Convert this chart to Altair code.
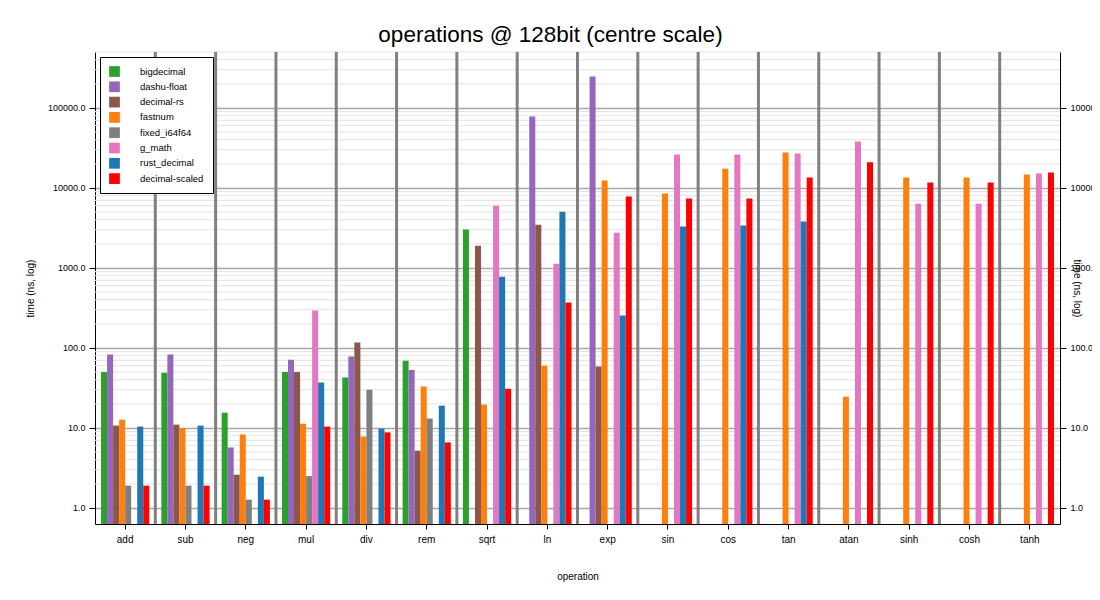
import altair as alt
import pandas as pd

operations = ["add", "sub", "neg", "mul", "div", "rem", "sqrt", "ln", "exp",
              "sin", "cos", "tan", "atan", "sinh", "cosh", "tanh"]
libraries = ["bigdecimal", "dashu-float", "decimal-rs", "fastnum",
             "fixed_i64f64", "g_math", "rust_decimal", "decimal-scaled"]
colors = ["#2ca02c", "#9467bd", "#8c564b", "#ff7f0e",
          "#7f7f7f", "#e377c2", "#1f77b4", "#ff0000"]

# time in ns per operation (None = not supported)
bigdecimal = [50, 49, 15.5, 50, 42.7, 69, 3020, None, None,
              None, None, None, None, None, None, None]
dashu_float = [83, 83, 5.7, 71, 78, 53, None, 78000, 247000,
               None, None, None, None, None, None, None]
decimal_rs = [10.7, 11, 2.6, 50, 117, 5.2, 1900, 3470, 58.5,
              None, None, None, None, None, None, None]
fastnum = [12.7, 10, 8.3, 11.3, 7.8, 33, 19.6, 60, 12400,
           8500, 17400, 27800, 24.6, 13500, 13500, 14700]
fixed_i64f64 = [1.9, 1.9, 1.27, 2.5, 30, 13.1, None, None, None,
                None, None, None, None, None, None, None]
g_math = [None, None, None, 293, None, None, 6000, 1130, 2760,
          26200, 26200, 27000, 38000, 6330, 6330, 15100]
rust_decimal = [10.4, 10.7, 2.46, 37, 9.8, 19, 776, 5030, 254,
                3300, 3380, 3800, None, None, None, None]
decimal_scaled = [1.9, 1.9, 1.27, 10.4, 8.8, 6.6, 31, 370, 7800,
                  7400, 7400, 13500, 20900, 11700, 11700, 15600]

series = [bigdecimal, dashu_float, decimal_rs, fastnum,
          fixed_i64f64, g_math, rust_decimal, decimal_scaled]

y_min, y_max = 0.63, 500000
major_ticks = [1, 10, 100, 1000, 10000, 100000]
minor_mult = [2, 3, 4, 5, 6, 7, 8, 9]

rows = []
for lib, vals in zip(libraries, series):
    for op, v in zip(operations, vals):
        if v is not None:
            rows.append({"operation": op, "library": lib, "time": v})
df = pd.DataFrame(rows)

minor_vals = [d * m for d in major_ticks for m in minor_mult if d * m <= y_max]
minor_df = pd.DataFrame({"time": minor_vals})
sep_df = pd.DataFrame({"operation": operations[1:]})
major_df = pd.DataFrame({"time": major_ticks})

W, H = 965, 472
STEP = W / len(operations)
FONT = "Liberation Sans"
ytitle = "time (ns, log)"
yscale = alt.Scale(type="log", domain=[y_min, y_max], nice=False)
xscale = alt.Scale(paddingInner=0.2, paddingOuter=0.1)
xaxis = alt.Axis(labelAngle=0, labelAlign="center", labelBaseline="top",
                 labelFontSize=10, labelColor="black", tickColor="black",
                 tickSize=5, domainColor="black", titleFontSize=10,
                 titleFontWeight="normal", titlePadding=27, labelPadding=5)

minor = alt.Chart(minor_df).mark_rule(color="#e2e2e2", strokeWidth=1).encode(
    y=alt.Y("time:Q", scale=yscale, axis=None, title=ytitle)
)

# separators between operation groups, shifted half a step left of the band centre
seps = alt.Chart(sep_df).mark_rule(color="#808080", strokeWidth=3, xOffset=-STEP / 2).encode(
    x=alt.X("operation:N", sort=operations, scale=xscale, title="operation", axis=xaxis)
)

bars = alt.Chart(df).mark_bar().encode(
    x=alt.X("operation:N", sort=operations, scale=xscale, title="operation", axis=xaxis),
    xOffset=alt.XOffset("library:N", sort=libraries,
                        scale=alt.Scale(domain=libraries, paddingInner=0, paddingOuter=0)),
    y=alt.Y("time:Q", scale=yscale, title=ytitle,
            axis=alt.Axis(values=major_ticks, format=".1f", grid=True,
                          gridColor="#a8a8a8", gridWidth=1.3,
                          labelFontSize=9, labelColor="black", tickColor="black",
                          tickSize=6, labelPadding=4, domainColor="black",
                          titleFontSize=10, titleFontWeight="normal", titlePadding=12)),
    y2=alt.datum(y_min),
    color=alt.Color("library:N", scale=alt.Scale(domain=libraries, range=colors),
                    legend=alt.Legend(title=None, orient="none", legendX=5, legendY=5,
                                      fillColor="white", strokeColor="black",
                                      padding=9, symbolType="square", symbolSize=115,
                                      symbolStrokeWidth=0, symbolOpacity=1,
                                      labelFontSize=9.5, labelColor="black",
                                      labelOffset=20, rowPadding=4.3)),
)

right_axis = alt.Chart(major_df).mark_rule(opacity=0).encode(
    y=alt.Y("time:Q", scale=yscale, title=ytitle,
            axis=alt.Axis(orient="right", values=major_ticks, format=".1f", grid=False,
                          labelFontSize=9, labelColor="black", tickColor="black",
                          tickSize=6, labelPadding=4, domainColor="black",
                          titleFontSize=10, titleFontWeight="normal",
                          titleX=16, titleY=H / 2, titleAngle=90, titleBaseline="middle"))
)

chart = alt.layer(minor, seps, bars, right_axis).resolve_axis(
    y="independent"
).properties(
    width=W, height=H,
    title=alt.Title("operations @ 128bit (centre scale)", fontSize=22.5,
                    fontWeight="normal", color="black", dx=-27, offset=4),
    autosize=alt.AutoSizeParams(type="none"),
    padding={"left": 87, "top": 44, "right": 32, "bottom": 60},
).configure(
    font=FONT
).configure_view(
    stroke=None
).configure_axis(
    labelFont=FONT, titleFont=FONT, titleColor="black"
).configure_legend(
    labelFont=FONT, cornerRadius=0
)

chart.save("out.html", embed_options={"renderer": "svg", "actions": False})
